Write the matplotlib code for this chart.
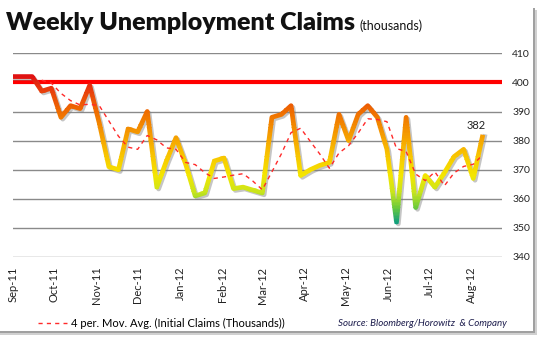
import numpy as np
import pandas as pd
import matplotlib
matplotlib.use("Agg")
import matplotlib.pyplot as plt
import matplotlib.dates as mdates
import matplotlib.patheffects as pe
from matplotlib.colors import LinearSegmentedColormap, Normalize
from matplotlib.patches import Rectangle

plt.rcParams['font.family'] = ['Lato', 'DejaVu Sans']

# weekly initial claims (thousands)
weeks = pd.date_range("2011-09-01", periods=50, freq="7D")
claims = [402, 402, 402, 397, 398, 388, 392, 391, 399, 386,
          371, 370, 384, 383, 390, 364, 373, 381, 372, 361,
          362, 373, 374, 363.5, 364, 363, 362, 388, 389, 392,
          368, 370, 371.5, 372.5, 389, 380, 389, 392, 388, 377,
          352, 388, 357, 368, 364, 369, 374.5, 377, 367, 382]
ma_window = 4
y_ticks = [340, 350, 360, 370, 380, 390, 400, 410]
threshold = 400

# colour ramp for the claims line, low values green -> high values red
ramp_values = [352, 357, 362, 368, 375, 382, 390, 397, 402]
ramp_colors = ["#14a07c", "#6ccb3a", "#c6e41e", "#f4e600", "#f8c400",
               "#f59c00", "#ef6c00", "#e8400c", "#e01212"]

lo, hi = ramp_values[0], ramp_values[-1]
cmap = LinearSegmentedColormap.from_list(
    "claims", [((v - lo) / (hi - lo), c) for v, c in zip(ramp_values, ramp_colors)])
norm = Normalize(lo, hi)

s = pd.Series(claims, index=weeks)
ma = s.rolling(ma_window).mean()

W, H = 543, 338
fig = plt.figure(figsize=(W / 100, H / 100), dpi=100)
ax = fig.add_axes([13 / W, 1 - 257 / H, (502 - 13) / W, (257 - 53.3) / H])

x_end = pd.Timestamp("2012-08-23")
ax.set_xlim(weeks[0], x_end)
ax.set_ylim(340, 410)

ax.set_yticks(y_ticks)
ax.yaxis.grid(True, color="#8a8a8a", lw=1)
ax.set_axisbelow(True)
for sp in ax.spines.values():
    sp.set_visible(False)

ax.axhline(threshold, color="#ff0000", lw=3, zorder=2)

# soft shadow under the claims line
ax.plot(weeks, claims, lw=3.4, solid_joinstyle="round", zorder=3,
        path_effects=[pe.SimpleLineShadow(offset=(1.3, -1.3), shadow_color="#808080", alpha=0.45)])

# vertical gradient: same line drawn once per thin horizontal band
x0 = mdates.date2num(weeks[0]) - 10
x1 = mdates.date2num(x_end) + 10
step = 0.5
for b in np.arange(348, 406, step):
    ln, = ax.plot(weeks, claims, color=cmap(norm(b + step / 2)), lw=3.4,
                  solid_joinstyle="round", solid_capstyle="butt", zorder=4)
    ln.set_clip_path(Rectangle((x0, b), x1 - x0, step * 1.1, transform=ax.transData))

ma_line, = ax.plot(ma.index, ma.values, color="#ff2a2a", lw=1, ls=(0, (3, 3)), zorder=5,
                   label="4 per. Mov. Avg. (Initial Claims (Thousands))")

ax.annotate(f"{claims[-1]:.0f}", xy=(weeks[-1], claims[-1]), xytext=(-5, 2.5),
            textcoords="offset points", ha="center", va="bottom", fontsize=8, color="#222222")

ax.xaxis.set_major_locator(mdates.MonthLocator())
ax.xaxis.set_major_formatter(mdates.DateFormatter("%b-%y"))
ax.yaxis.tick_right()
ax.tick_params(length=0, colors="#222222")
ax.tick_params(axis="y", pad=7.5, labelsize=7.5)
ax.tick_params(axis="x", pad=7, labelsize=8, labelrotation=90)

fig.text(6 / W, 1 - 30.5 / H, "Weekly Unemployment Claims", fontsize=18,
         fontweight="heavy", va="baseline", color="#111111")
fig.text(359 / W, 1 - 30.5 / H, "(thousands)", fontsize=9, va="baseline", color="#111111")

fig.legend(handles=[ma_line], loc="center left", bbox_to_anchor=(38 / W, 1 - 323 / H),
           frameon=False, fontsize=8, handlelength=2.6, handletextpad=0.35,
           borderpad=0, borderaxespad=0)
fig.text(507 / W, 1 - 323 / H, "Source: Bloomberg/Horowitz  & Company", ha="right",
         va="center", style="italic", fontsize=7, color="#1c1c4c")

# drop shadow along right and bottom edges of the panel
for off, col in [(0, "#a0a0a0"), (2, "#d0d0d0")]:
    fig.patches.append(Rectangle(((533 + off) / W, 1 - (333 + off) / H), 2 / W, (329 - 4) / H,
                                 transform=fig.transFigure, color=col, lw=0))
    fig.patches.append(Rectangle((0, 1 - (333 + off) / H), (535 + off) / W, 2 / H,
                                 transform=fig.transFigure, color=col, lw=0))

fig.savefig("out.png", dpi=100)
